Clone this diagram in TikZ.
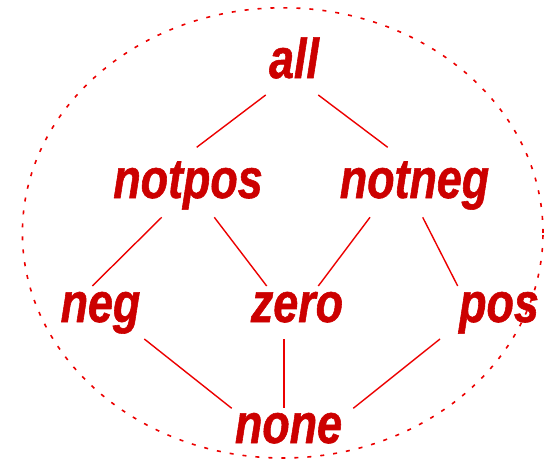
\documentclass[tikz,border=0pt]{standalone}
\usepackage{fontspec}
\newfontfamily\labelfont[FakeStretch=0.8,FakeBold=1]{Liberation Sans}
\usetikzlibrary{calc}
\definecolor{labelred}{RGB}{204,0,0}
\definecolor{linered}{RGB}{236,0,0}
\tikzset{
  lattice/.style={text=labelred, anchor=base, inner sep=0pt,
    font=\labelfont\fontsize{56}{64}\selectfont\bfseries\itshape},
  link/.style={draw=linered, line width=1.4pt},
  hull/.style={draw=linered, line width=1.6pt, dash pattern=on 4pt off 9pt}
}
\begin{document}
\begin{tikzpicture}[x=1pt, y=-1pt]
\useasboundingbox (0,0) rectangle (544,463);
\draw[hull] (282.7,232.9) ellipse [x radius=260.3pt, y radius=225.1pt];
\node[lattice] (all)    at (294,78)    {all};
\node[lattice] (notpos) at (188,198)   {notpos};
\node[lattice] (notneg) at (414.5,198) {notneg};
\node[lattice] (neg)    at (100.5,322) {neg};
\node[lattice] (zero)   at (297,322)   {zero};
\node[lattice] (pos)    at (499,322)   {pos};
\node[lattice] (none)   at (288.5,443) {none};
\draw[link] ($(all.base)+(-28.3,17)$) -- ($(notpos.base)+(8.7,-50.7)$);
\draw[link] ($(all.base)+(24.3,17)$) -- ($(notneg.base)+(-26.8,-50.7)$);
\draw[link] ($(notpos.base)+(-26.3,19.3)$) -- ($(neg.base)+(-8.2,-36)$);
\draw[link] ($(notpos.base)+(26.3,19.3)$) -- ($(zero.base)+(-30.3,-36)$);
\draw[link] ($(notneg.base)+(-44.5,19.3)$) -- ($(zero.base)+(21.3,-36)$);
\draw[link] ($(notneg.base)+(8.2,19.3)$) -- ($(pos.base)+(-41.3,-36)$);
\draw[link] ($(neg.base)+(43.8,17)$) -- ($(none.base)+(-56.8,-34.7)$);
\draw[link] ($(zero.base)+(-13,17)$) -- ($(none.base)+(-4.5,-34.7)$);
\draw[link] ($(pos.base)+(-59,17)$) -- ($(none.base)+(64.8,-34.7)$);
\end{tikzpicture}
\end{document}
